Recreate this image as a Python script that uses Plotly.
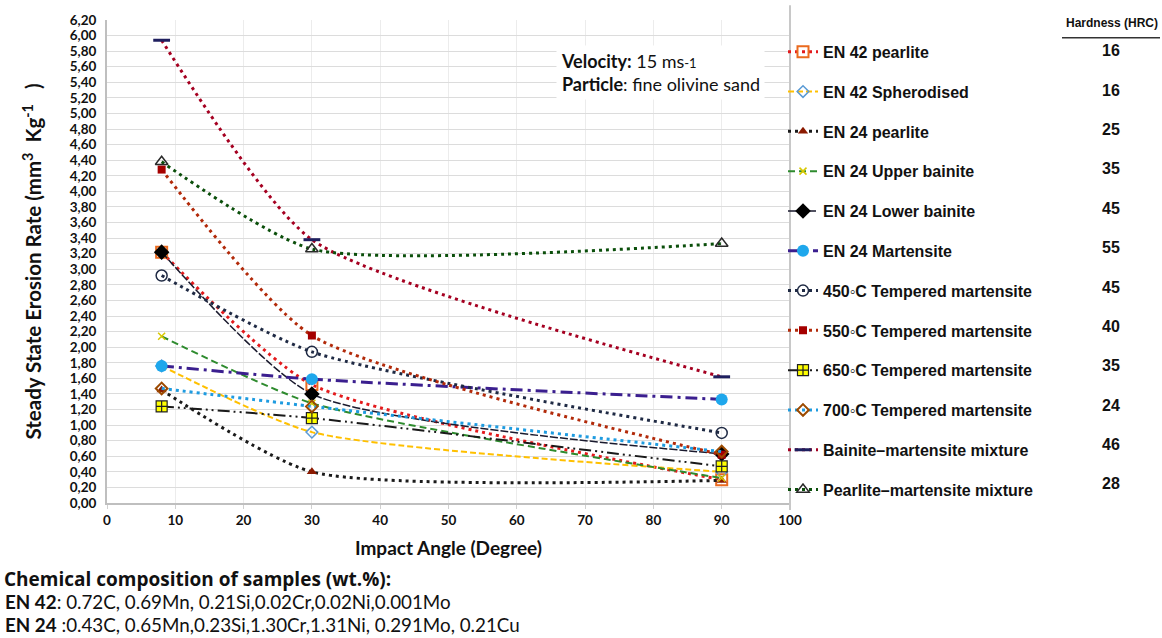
import plotly.graph_objects as go

# ---------------- data ----------------
angles = [8, 30, 90]
series_names = [
    "EN 42 pearlite", "EN 42 Spherodised", "EN 24 pearlite", "EN 24 Upper bainite",
    "EN 24 Lower bainite", "EN 24 Martensite", "450◦C Tempered martensite",
    "550◦C Tempered martensite", "650◦C Tempered martensite", "700◦C Tempered martensite",
    "Bainite–martensite mixture", "Pearlite–martensite mixture",
]
en42_pearlite = [3.22, 1.52, 0.30]
en42_spherodised = [1.76, 0.91, 0.40]
en24_pearlite = [1.45, 0.40, 0.29]
en24_upper_bainite = [2.14, 1.28, 0.32]
en24_lower_bainite = [3.22, 1.40, 0.63]
en24_martensite = [1.76, 1.59, 1.33]
tm450 = [2.92, 1.94, 0.90]
tm550 = [4.28, 2.15, 0.62]
tm650 = [1.24, 1.09, 0.47]
tm700 = [1.47, 1.24, 0.66]
bainite_martensite = [5.94, 3.38, 1.62]
pearlite_martensite = [4.38, 3.26, 3.33]
hardness = ["16", "16", "25", "35", "45", "55", "45", "40", "35", "24", "46", "28"]

values = [en42_pearlite, en42_spherodised, en24_pearlite, en24_upper_bainite,
          en24_lower_bainite, en24_martensite, tm450, tm550, tm650, tm700,
          bainite_martensite, pearlite_martensite]

# ---------------- styles ----------------
DOT = "3px,4px"
styles = [
    dict(line=dict(color="#e31a1c", width=3, dash=DOT),
         marker=dict(symbol="square-open", color="#ea6a1e", size=11, line=dict(width=2))),
    dict(line=dict(color="#ffc000", width=2, dash="6px,3px"),
         marker=dict(symbol="diamond-open", color="#5b9bd5", size=9, line=dict(width=1.5))),
    dict(line=dict(color="#1a1a1a", width=3, dash=DOT),
         marker=dict(symbol="triangle-up", color="#8b1a00", size=9)),
    dict(line=dict(color="#2e8b2e", width=2, dash="7px,4px"),
         marker=dict(symbol="x-thin", color="#d8c800", size=7, line=dict(width=1.5, color="#d8c800"))),
    dict(line=dict(color="#1a1a2e", width=1.5, dash="8px,2px"),
         marker=dict(symbol="diamond", color="#000000", size=12)),
    dict(line=dict(color="#3b1f8f", width=3, dash="12px,5px,3px,5px"),
         marker=dict(symbol="circle", color="#1ea7ec", size=12)),
    dict(line=dict(color="#1f2a44", width=3, dash=DOT),
         marker=dict(symbol="circle-open", color="#1f2a44", size=11, line=dict(width=1.5))),
    dict(line=dict(color="#b22a0a", width=3, dash=DOT),
         marker=dict(symbol="square", color="#a50000", size=8)),
    dict(line=dict(color="#1a1a1a", width=2, dash="12px,4px,2px,4px,2px,4px"),
         marker=dict(symbol="square-cross", color="#ffff00", size=11, line=dict(width=1.2, color="#222222"))),
    dict(line=dict(color="#1e9be0", width=3, dash=DOT),
         marker=dict(symbol="diamond-open", color="#9c4a00", size=9, line=dict(width=2))),
    dict(line=dict(color="#a50021", width=3, dash=DOT),
         marker=dict(symbol="line-ew", color="#1f1f5f", size=12, line=dict(width=3, color="#1f1f5f"))),
    dict(line=dict(color="#0b4f0b", width=3, dash=DOT),
         marker=dict(symbol="triangle-up-open", color="#2a2a2a", size=11, line=dict(width=1.5))),
]

# pixel helpers (plot area: x 107..790, y 15..503)
L, R, T, B = 107, 790, 15, 503
def px_x(p):
    return (p - L) / (R - L)
def px_y(p):
    return 1 - (p - T) / (B - T)

fig = go.Figure()
for i, (name, vals, st) in enumerate(zip(series_names, values, styles)):
    fig.add_trace(go.Scatter(
        x=angles, y=vals, name=name, mode="lines+markers",
        line=dict(shape="spline", smoothing=0.6, **st["line"]),
        marker=st["marker"], legendgroup=f"g{i}",
    ))

annotations = []
# hardness column
leg_first, leg_step = 46, 39.8
for i, h in enumerate(hardness):
    annotations.append(dict(
        x=px_x(1111), y=px_y(leg_first + i * leg_step), xref="paper", yref="paper",
        text=f"<b>{h}</b>", showarrow=False, xanchor="center", yanchor="middle",
        font=dict(family="Liberation Sans", size=16, color="#111111")))
annotations.append(dict(
    x=px_x(1160), y=px_y(18), xref="paper", yref="paper", text="<b>Hardness (HRC)</b>",
    showarrow=False, xanchor="right", yanchor="middle",
    font=dict(family="Liberation Sans", size=12, color="#111111")))
# info box
annotations.append(dict(
    x=px_x(556), y=px_y(40), xref="paper", yref="paper", align="left",
    text="<b>Velocity:</b> 15 ms<span style='font-size:13px'>-1</span><br>"
         "<b>Particle</b>: fine olivine sand",
    showarrow=False, xanchor="left", yanchor="top", bgcolor="white", borderpad=4,
    font=dict(family="Lato", size=18, color="#111111")))
# composition notes
notes = [
    "<b>EN 42</b>: 0.72C, 0.69Mn, 0.21Si,0.02Cr,0.02Ni,0.001Mo",
    "<b>EN 24</b> :0.43C, 0.65Mn,0.23Si,1.30Cr,1.31Ni, 0.291Mo, 0.21Cu",
]
annotations.append(dict(
    x=px_x(2), y=px_y(580), xref="paper", yref="paper",
    text="<b>Chemical composition of samples (wt.%):</b>",
    showarrow=False, xanchor="left", yanchor="middle",
    font=dict(family="Open Sans", size=19, color="#111111")))
for j, t in enumerate(notes):
    annotations.append(dict(
        x=px_x(3), y=px_y(603 + j * 23), xref="paper", yref="paper", text=t,
        showarrow=False, xanchor="left", yanchor="middle",
        font=dict(family="Lato", size=18.8, color="#111111")))

shapes = [
    dict(type="line", xref="paper", yref="paper", x0=1, x1=1, y0=px_y(510), y1=px_y(0),
         line=dict(color="#c8c8c8", width=2)),
    dict(type="line", xref="paper", yref="paper", x0=px_x(1062), x1=px_x(1160),
         y0=px_y(33), y1=px_y(33), line=dict(color="#333333", width=1.5)),
]

fig.update_layout(
    width=1162, height=638,
    margin=dict(l=L, r=1162 - R, t=T, b=638 - B),
    paper_bgcolor="white", plot_bgcolor="white",
    separators=",.",
    showlegend=True,
    legend=dict(x=px_x(783), y=px_y(30), xanchor="left", yanchor="top",
                bgcolor="rgba(0,0,0,0)", tracegroupgap=16, itemwidth=30,
                font=dict(family="Liberation Sans", size=16, color="#111111", weight="bold")),
    xaxis=dict(range=[0, 100], dtick=10, tick0=0, showgrid=True, gridcolor="#ececec",
               showline=True, linecolor="#bfbfbf", linewidth=2, zeroline=False,
               ticks="outside", ticklen=4, tickcolor="#d0d0d0",
               tickfont=dict(family="Lato", size=13.5, color="#111111", weight="bold"),
               title=dict(text="<b>Impact Angle (Degree)</b>", standoff=14,
                          font=dict(family="Lato", size=19, color="#111111"))),
    yaxis=dict(range=[0, 6.2], dtick=0.2, tick0=0, tickformat=".2f", showgrid=True,
               gridcolor="#dcdcdc", showline=True, linecolor="#bfbfbf", linewidth=2,
               zeroline=False, ticklabelstandoff=6,
               tickfont=dict(family="Lato", size=13.5, color="#111111", weight="bold"),
               title=dict(text="<b>Steady State Erosion Rate (mm<sup>3</sup>  Kg<sup>-1</sup>   )</b>",
                          standoff=22, font=dict(family="Lato", size=20.5, color="#111111"))),
    annotations=annotations,
    shapes=shapes,
)

fig.write_html("out.html")
